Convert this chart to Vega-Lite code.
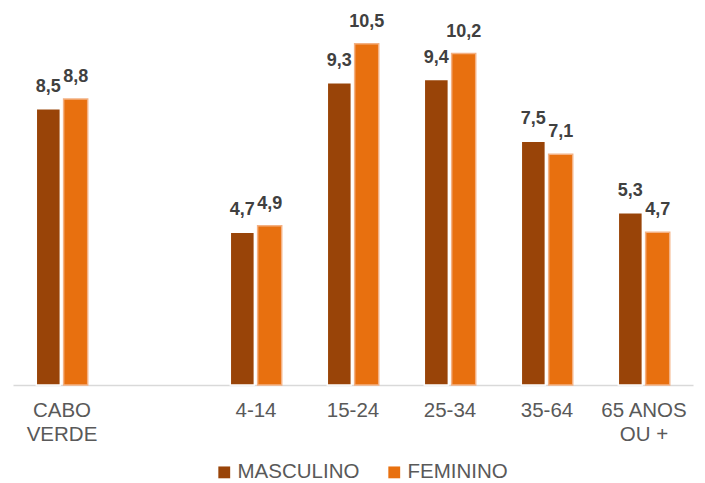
{
  "$schema": "https://vega.github.io/schema/vega-lite/v6.json",
  "width": 680,
  "height": 385,
  "padding": {"left": 13, "top": 0, "right": 12, "bottom": 0},
  "background": "white",
  "config": {
    "view": {"stroke": null},
    "font": "Liberation Sans",
    "locale": {"number": {"decimal": ",", "thousands": ".", "grouping": [3], "currency": ["", " €"]}}
  },
  "data": {
    "values": [
      {"cat": "CABO VERDE", "sexo": "MASCULINO", "v": 8.5},
      {"cat": "CABO VERDE", "sexo": "FEMININO", "v": 8.8},
      {"cat": "4-14", "sexo": "MASCULINO", "v": 4.7},
      {"cat": "4-14", "sexo": "FEMININO", "v": 4.9},
      {"cat": "15-24", "sexo": "MASCULINO", "v": 9.3},
      {"cat": "15-24", "sexo": "FEMININO", "v": 10.5},
      {"cat": "25-34", "sexo": "MASCULINO", "v": 9.4},
      {"cat": "25-34", "sexo": "FEMININO", "v": 10.2},
      {"cat": "35-64", "sexo": "MASCULINO", "v": 7.5},
      {"cat": "35-64", "sexo": "FEMININO", "v": 7.1},
      {"cat": "65 ANOS OU +", "sexo": "MASCULINO", "v": 5.3},
      {"cat": "65 ANOS OU +", "sexo": "FEMININO", "v": 4.7}
    ]
  },
  "encoding": {
    "x": {
      "field": "cat",
      "type": "nominal",
      "sort": null,
      "scale": {"domain": ["CABO VERDE", " ", "4-14", "15-24", "25-34", "35-64", "65 ANOS OU +"], "paddingInner": 0.47, "paddingOuter": 0.24},
      "axis": {
        "title": null,
        "labelAngle": 0,
        "labelFontSize": 20.5,
        "labelColor": "#595959",
        "labelPadding": 15,
        "labelLineHeight": 24,
        "labelExpr": "datum.label == 'CABO VERDE' ? ['CABO', 'VERDE'] : datum.label == '65 ANOS OU +' ? ['65 ANOS', 'OU +'] : datum.label",
        "ticks": false,
        "domainColor": "#d9d9d9",
        "domainWidth": 1.5,
        "grid": false
      }
    },
    "xOffset": {"field": "sexo", "type": "nominal", "sort": ["MASCULINO", "FEMININO"], "scale": {"paddingInner": 0.12}},
    "y": {"field": "v", "type": "quantitative", "scale": {"domain": [0, 11.85], "nice": false}, "axis": null}
  },
  "layer": [
    {
      "mark": {"type": "bar", "strokeWidth": 1.5},
      "encoding": {
        "color": {
          "field": "sexo",
          "type": "nominal",
          "sort": ["MASCULINO", "FEMININO"],
          "scale": {"domain": ["MASCULINO", "FEMININO"], "range": ["#994408", "#E8700F"]},
          "legend": {
            "title": null,
            "orient": "none",
            "legendX": 201,
            "legendY": 462,
            "direction": "horizontal",
            "labelFontSize": 20.5,
            "labelColor": "#595959",
            "symbolType": "square",
            "symbolSize": 140,
            "symbolStrokeWidth": 0,
            "columnPadding": 24,
            "labelOffset": 3
          }
        },
        "stroke": {
          "field": "sexo",
          "type": "nominal",
          "scale": {"domain": ["MASCULINO", "FEMININO"], "range": ["#ffffff", "#F4B183"]},
          "legend": null
        }
      }
    },
    {
      "mark": {"type": "text", "baseline": "alphabetic", "dy": -17, "fontSize": 18, "fontWeight": "bold", "color": "#404040"},
      "encoding": {
        "text": {"field": "v", "type": "quantitative", "format": ".1f"}
      }
    }
  ]
}
